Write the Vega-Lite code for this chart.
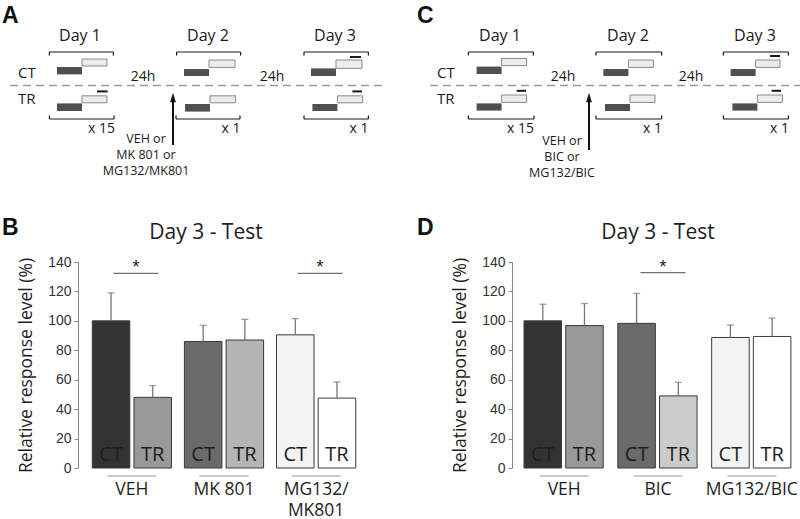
{
  "$schema": "https://vega.github.io/schema/vega-lite/v6.json",
  "padding": 0,
  "bounds": "flush",
  "spacing": 0,
  "config": {
    "view": {"stroke": null},
    "font": "Open Sans",
    "axisY": {"labelOverlap": false, "grid": false, "domainColor": "#888888", "tickColor": "#888888", "tickSize": 4, "labelFont": "Liberation Sans", "labelFontSize": 14, "labelColor": "#333333", "labelPadding": 3, "titleFont": "Open Sans", "titleFontSize": 17.5, "titleFontWeight": "normal", "titleColor": "#1e1e1e", "titlePadding": 12},
    "axisX": {"domain": false, "ticks": false, "tickSize": 0, "labelAngle": 0, "labelFont": "Open Sans", "labelFontSize": 17.5, "labelColor": "#1e1e1e", "labelPadding": 12, "labelLineHeight": 21, "labelOverlap": false}
  },
  "datasets": {
    "rects": [
      {"x": 28.5, "x2": 41, "y": 33.5, "y2": 37.2, "k": "dark"},
      {"x": 41, "x2": 53.5, "y": 29.5, "y2": 33, "k": "light"},
      {"x": 28.5, "x2": 41, "y": 51.7, "y2": 55.5, "k": "dark"},
      {"x": 41, "x2": 53.5, "y": 47.9, "y2": 51.4, "k": "light"},
      {"x": 48.5, "x2": 53.8, "y": 45.2, "y2": 46.2, "k": "cue"},
      {"x": 92, "x2": 104.5, "y": 34.5, "y2": 38, "k": "dark"},
      {"x": 104.5, "x2": 117.5, "y": 30, "y2": 33.7, "k": "light"},
      {"x": 92.5, "x2": 105, "y": 52, "y2": 55.8, "k": "dark"},
      {"x": 105, "x2": 117.8, "y": 47.9, "y2": 51.4, "k": "light"},
      {"x": 155.5, "x2": 168, "y": 34.2, "y2": 38, "k": "dark"},
      {"x": 168, "x2": 181, "y": 30, "y2": 34.2, "k": "light"},
      {"x": 175, "x2": 180.5, "y": 28, "y2": 29, "k": "cue"},
      {"x": 156.2, "x2": 168.7, "y": 52, "y2": 55.5, "k": "dark"},
      {"x": 168.7, "x2": 181.3, "y": 47.9, "y2": 51.4, "k": "light"},
      {"x": 176.2, "x2": 181, "y": 45.2, "y2": 46.2, "k": "cue"},
      {"x": 238.3, "x2": 250.8, "y": 33.3, "y2": 37, "k": "dark"},
      {"x": 250.8, "x2": 263.3, "y": 29.2, "y2": 32.8, "k": "light"},
      {"x": 238.3, "x2": 250.8, "y": 51.7, "y2": 55.3, "k": "dark"},
      {"x": 250.8, "x2": 263.3, "y": 47.5, "y2": 51.2, "k": "light"},
      {"x": 258.3, "x2": 263, "y": 44.9, "y2": 45.9, "k": "cue"},
      {"x": 301.7, "x2": 314.2, "y": 34.5, "y2": 38, "k": "dark"},
      {"x": 314.2, "x2": 326.7, "y": 30, "y2": 33.7, "k": "light"},
      {"x": 302.5, "x2": 315, "y": 52, "y2": 55.5, "k": "dark"},
      {"x": 315, "x2": 327.5, "y": 47.5, "y2": 51.2, "k": "light"},
      {"x": 365.3, "x2": 377.8, "y": 34.5, "y2": 38, "k": "dark"},
      {"x": 377.8, "x2": 390, "y": 30, "y2": 33.7, "k": "light"},
      {"x": 385, "x2": 390, "y": 27.5, "y2": 28.5, "k": "cue"},
      {"x": 366.2, "x2": 378.7, "y": 51.7, "y2": 55.3, "k": "dark"},
      {"x": 378.7, "x2": 391.2, "y": 47.5, "y2": 51.2, "k": "light"},
      {"x": 385.8, "x2": 390.5, "y": 44.9, "y2": 45.9, "k": "cue"}
    ],
    "brk": [
      {"x": 24.7, "x2": 56.7, "y": 26, "yt": 27.8},
      {"x": 88.3, "x2": 120.3, "y": 26, "yt": 27.8},
      {"x": 152, "x2": 184.2, "y": 26, "yt": 27.8},
      {"x": 24.7, "x2": 57, "y": 59.5, "yt": 57.7},
      {"x": 88, "x2": 120, "y": 59.5, "yt": 57.7},
      {"x": 152, "x2": 184.2, "y": 59.5, "yt": 57.7},
      {"x": 234.2, "x2": 266.7, "y": 26, "yt": 27.8},
      {"x": 298, "x2": 330.8, "y": 26, "yt": 27.8},
      {"x": 361.7, "x2": 394.2, "y": 26, "yt": 27.8},
      {"x": 234.2, "x2": 267, "y": 59.5, "yt": 57.7},
      {"x": 298, "x2": 330.8, "y": 59.5, "yt": 57.7},
      {"x": 361.7, "x2": 394.2, "y": 59.5, "yt": 57.7}
    ],
    "dash": [
      {"x": 5, "x2": 191, "y": 42.7},
      {"x": 215, "x2": 400, "y": 42.7}
    ],
    "arrow": [
      {"x": 86.5, "y": 72.5, "y2": 50, "ty": 48.8},
      {"x": 294.5, "y": 75, "y2": 50, "ty": 48.8}
    ],
    "txt": [
      {"x": 1, "y": 11.5, "t": "A", "k": "letter"},
      {"x": 1, "y": 117.5, "t": "B", "k": "letter"},
      {"x": 208.5, "y": 11.5, "t": "C", "k": "letter"},
      {"x": 208.5, "y": 117.5, "t": "D", "k": "letter"},
      {"x": 40, "y": 20.5, "t": "Day 1", "k": "day"},
      {"x": 104, "y": 20.5, "t": "Day 2", "k": "day"},
      {"x": 167.5, "y": 20.5, "t": "Day 3", "k": "day"},
      {"x": 250, "y": 20.5, "t": "Day 1", "k": "day"},
      {"x": 314, "y": 20.5, "t": "Day 2", "k": "day"},
      {"x": 377.5, "y": 20.5, "t": "Day 3", "k": "day"},
      {"x": 9, "y": 39, "t": "CT", "k": "grp"},
      {"x": 9, "y": 52, "t": "TR", "k": "grp"},
      {"x": 218.5, "y": 39, "t": "CT", "k": "grp"},
      {"x": 218.5, "y": 52, "t": "TR", "k": "grp"},
      {"x": 71.5, "y": 40.5, "t": "24h", "k": "h24"},
      {"x": 136, "y": 40.5, "t": "24h", "k": "h24"},
      {"x": 281.5, "y": 40.5, "t": "24h", "k": "h24"},
      {"x": 345.5, "y": 40.5, "t": "24h", "k": "h24"},
      {"x": 57.5, "y": 66.4, "t": "x 15", "k": "rep"},
      {"x": 120.3, "y": 66.4, "t": "x 1", "k": "rep"},
      {"x": 184.3, "y": 66.4, "t": "x 1", "k": "rep"},
      {"x": 267, "y": 66.4, "t": "x 15", "k": "rep"},
      {"x": 331, "y": 66.4, "t": "x 1", "k": "rep"},
      {"x": 394.5, "y": 66.4, "t": "x 1", "k": "rep"},
      {"x": 73, "y": 71.5, "t": "VEH or", "k": "trt"},
      {"x": 73, "y": 79.5, "t": "MK 801 or", "k": "trt"},
      {"x": 73, "y": 87.5, "t": "MG132/MK801", "k": "trt"},
      {"x": 281, "y": 72.5, "t": "VEH or", "k": "trt"},
      {"x": 281, "y": 80.5, "t": "BIC or", "k": "trt"},
      {"x": 281, "y": 88.5, "t": "MG132/BIC", "k": "trt"}
    ],
    "b": [
      {"group": "VEH", "cond": "CT", "id": "VEH CT", "mean": 100, "upper": 119},
      {"group": "VEH", "cond": "TR", "id": "VEH TR", "mean": 48, "upper": 56},
      {"group": "MK 801", "cond": "CT", "id": "MK CT", "mean": 86, "upper": 97},
      {"group": "MK 801", "cond": "TR", "id": "MK TR", "mean": 87, "upper": 101},
      {"group": "MG132/MK801", "cond": "CT", "id": "MG CT", "mean": 90.5, "upper": 101.5},
      {"group": "MG132/MK801", "cond": "TR", "id": "MG TR", "mean": 47.5, "upper": 58.5}
    ],
    "bsig": [
      {"group": "VEH", "y": 132.3},
      {"group": "MG132/MK801", "y": 132.3}
    ],
    "d": [
      {"group": "VEH", "cond": "CT", "id": "VEH CT", "mean": 100, "upper": 111.3},
      {"group": "VEH", "cond": "TR", "id": "VEH TR", "mean": 96.8, "upper": 111.8},
      {"group": "BIC", "cond": "CT", "id": "BIC CT", "mean": 98.3, "upper": 118.7},
      {"group": "BIC", "cond": "TR", "id": "BIC TR", "mean": 49, "upper": 58.2},
      {"group": "MG132/BIC", "cond": "CT", "id": "MG CT", "mean": 88.7, "upper": 97.2},
      {"group": "MG132/BIC", "cond": "TR", "id": "MG TR", "mean": 89.4, "upper": 101.9}
    ],
    "dsig": [
      {"group": "BIC", "y": 132.8}
    ]
  },
  "vconcat": [
    {
      "width": 800,
      "height": 262,
      "layer": [
        {
          "data": {"name": "rects"},
          "transform": [{"filter": "datum.k == 'dark'"}],
          "mark": {"type": "rect", "color": "#505050"},
          "encoding": {
            "x": {"field": "x", "type": "quantitative", "scale": {"domain": [0, 400], "nice": false, "zero": false}, "axis": null},
            "x2": {"field": "x2"},
            "y": {"field": "y", "type": "quantitative", "scale": {"domain": [0, 131], "nice": false, "zero": false, "reverse": true}, "axis": null},
            "y2": {"field": "y2"}
          }
        },
        {
          "data": {"name": "rects"},
          "transform": [{"filter": "datum.k == 'light'"}],
          "mark": {"type": "rect", "fill": "#ececec", "stroke": "#8a8a8a", "strokeWidth": 1},
          "encoding": {
            "x": {"field": "x", "type": "quantitative", "scale": {"domain": [0, 400], "nice": false, "zero": false}, "axis": null},
            "x2": {"field": "x2"},
            "y": {"field": "y", "type": "quantitative", "scale": {"domain": [0, 131], "nice": false, "zero": false, "reverse": true}, "axis": null},
            "y2": {"field": "y2"}
          }
        },
        {
          "data": {"name": "rects"},
          "transform": [{"filter": "datum.k == 'cue'"}],
          "mark": {"type": "rect", "color": "#1a1a1a"},
          "encoding": {
            "x": {"field": "x", "type": "quantitative", "scale": {"domain": [0, 400], "nice": false, "zero": false}, "axis": null},
            "x2": {"field": "x2"},
            "y": {"field": "y", "type": "quantitative", "scale": {"domain": [0, 131], "nice": false, "zero": false, "reverse": true}, "axis": null},
            "y2": {"field": "y2"}
          }
        },
        {
          "data": {"name": "brk"},
          "mark": {"type": "rule", "color": "#1a1a1a", "strokeWidth": 1.2},
          "encoding": {
            "x": {"field": "x", "type": "quantitative", "scale": {"domain": [0, 400], "nice": false, "zero": false}, "axis": null},
            "x2": {"field": "x2"},
            "y": {"field": "y", "type": "quantitative", "scale": {"domain": [0, 131], "nice": false, "zero": false, "reverse": true}, "axis": null}
          }
        },
        {
          "data": {"name": "brk"},
          "mark": {"type": "rule", "color": "#1a1a1a", "strokeWidth": 1.2},
          "encoding": {
            "x": {"field": "x", "type": "quantitative", "scale": {"domain": [0, 400], "nice": false, "zero": false}, "axis": null},
            "y": {"field": "y", "type": "quantitative", "scale": {"domain": [0, 131], "nice": false, "zero": false, "reverse": true}, "axis": null},
            "y2": {"field": "yt"}
          }
        },
        {
          "data": {"name": "brk"},
          "mark": {"type": "rule", "color": "#1a1a1a", "strokeWidth": 1.2},
          "encoding": {
            "x": {"field": "x2", "type": "quantitative", "scale": {"domain": [0, 400], "nice": false, "zero": false}, "axis": null},
            "y": {"field": "y", "type": "quantitative", "scale": {"domain": [0, 131], "nice": false, "zero": false, "reverse": true}, "axis": null},
            "y2": {"field": "yt"}
          }
        },
        {
          "data": {"name": "dash"},
          "mark": {"type": "rule", "color": "#9a9a9a", "strokeWidth": 1.5, "strokeDash": [8, 5]},
          "encoding": {
            "x": {"field": "x", "type": "quantitative", "scale": {"domain": [0, 400], "nice": false, "zero": false}, "axis": null},
            "x2": {"field": "x2"},
            "y": {"field": "y", "type": "quantitative", "scale": {"domain": [0, 131], "nice": false, "zero": false, "reverse": true}, "axis": null}
          }
        },
        {
          "data": {"name": "arrow"},
          "mark": {"type": "rule", "color": "#111111", "strokeWidth": 2},
          "encoding": {
            "x": {"field": "x", "type": "quantitative", "scale": {"domain": [0, 400], "nice": false, "zero": false}, "axis": null},
            "y": {"field": "y", "type": "quantitative", "scale": {"domain": [0, 131], "nice": false, "zero": false, "reverse": true}, "axis": null},
            "y2": {"field": "y2"}
          }
        },
        {
          "data": {"name": "arrow"},
          "mark": {"type": "point", "shape": "M-0.6,1L0,-1L0.6,1Z", "size": 90, "filled": true, "opacity": 1, "color": "#111111"},
          "encoding": {
            "x": {"field": "x", "type": "quantitative", "scale": {"domain": [0, 400], "nice": false, "zero": false}, "axis": null},
            "y": {"field": "ty", "type": "quantitative", "scale": {"domain": [0, 131], "nice": false, "zero": false, "reverse": true}, "axis": null}
          }
        },
        {
          "data": {"name": "txt"},
          "transform": [{"filter": "datum.k == 'letter'"}],
          "mark": {"type": "text", "font": "Liberation Sans", "fontWeight": "bold", "fontSize": 23, "align": "left", "baseline": "alphabetic", "color": "#111111"},
          "encoding": {
            "x": {"field": "x", "type": "quantitative", "scale": {"domain": [0, 400], "nice": false, "zero": false}, "axis": null},
            "y": {"field": "y", "type": "quantitative", "scale": {"domain": [0, 131], "nice": false, "zero": false, "reverse": true}, "axis": null},
            "text": {"field": "t"}
          }
        },
        {
          "data": {"name": "txt"},
          "transform": [{"filter": "datum.k == 'day'"}],
          "mark": {"type": "text", "font": "Open Sans", "fontSize": 16, "align": "center", "baseline": "alphabetic", "color": "#1a1a1a"},
          "encoding": {
            "x": {"field": "x", "type": "quantitative", "scale": {"domain": [0, 400], "nice": false, "zero": false}, "axis": null},
            "y": {"field": "y", "type": "quantitative", "scale": {"domain": [0, 131], "nice": false, "zero": false, "reverse": true}, "axis": null},
            "text": {"field": "t"}
          }
        },
        {
          "data": {"name": "txt"},
          "transform": [{"filter": "datum.k == 'grp'"}],
          "mark": {"type": "text", "font": "Open Sans", "fontSize": 15, "align": "left", "baseline": "alphabetic", "color": "#1a1a1a"},
          "encoding": {
            "x": {"field": "x", "type": "quantitative", "scale": {"domain": [0, 400], "nice": false, "zero": false}, "axis": null},
            "y": {"field": "y", "type": "quantitative", "scale": {"domain": [0, 131], "nice": false, "zero": false, "reverse": true}, "axis": null},
            "text": {"field": "t"}
          }
        },
        {
          "data": {"name": "txt"},
          "transform": [{"filter": "datum.k == 'h24'"}],
          "mark": {"type": "text", "font": "Open Sans", "fontSize": 14, "align": "center", "baseline": "alphabetic", "color": "#1a1a1a"},
          "encoding": {
            "x": {"field": "x", "type": "quantitative", "scale": {"domain": [0, 400], "nice": false, "zero": false}, "axis": null},
            "y": {"field": "y", "type": "quantitative", "scale": {"domain": [0, 131], "nice": false, "zero": false, "reverse": true}, "axis": null},
            "text": {"field": "t"}
          }
        },
        {
          "data": {"name": "txt"},
          "transform": [{"filter": "datum.k == 'rep'"}],
          "mark": {"type": "text", "font": "Open Sans", "fontSize": 14, "align": "right", "baseline": "alphabetic", "color": "#1a1a1a"},
          "encoding": {
            "x": {"field": "x", "type": "quantitative", "scale": {"domain": [0, 400], "nice": false, "zero": false}, "axis": null},
            "y": {"field": "y", "type": "quantitative", "scale": {"domain": [0, 131], "nice": false, "zero": false, "reverse": true}, "axis": null},
            "text": {"field": "t"}
          }
        },
        {
          "data": {"name": "txt"},
          "transform": [{"filter": "datum.k == 'trt'"}],
          "mark": {"type": "text", "font": "Open Sans", "fontSize": 12.5, "align": "center", "baseline": "alphabetic", "color": "#1a1a1a"},
          "encoding": {
            "x": {"field": "x", "type": "quantitative", "scale": {"domain": [0, 400], "nice": false, "zero": false}, "axis": null},
            "y": {"field": "y", "type": "quantitative", "scale": {"domain": [0, 131], "nice": false, "zero": false, "reverse": true}, "axis": null},
            "text": {"field": "t"}
          }
        }
      ]
    },
    {
      "bounds": "flush",
      "spacing": 0,
      "hconcat": [
        {"width": 78, "height": 206, "data": {"values": []}, "mark": "point", "encoding": {}},
        {
          "bounds": "flush",
          "spacing": 142,
          "hconcat": [
            {
              "width": 292,
              "height": 206,
              "title": {"text": "Day 3 - Test", "font": "Open Sans", "fontSize": 21, "fontWeight": "normal", "color": "#1e1e1e", "anchor": "middle", "frame": "group", "dx": -18, "dy": 20, "offset": 15, "baseline": "alphabetic"},
              "layer": [
                {
                  "data": {"name": "b"},
                  "mark": {"type": "bar", "stroke": "#3a3a3a", "strokeWidth": 1},
                  "encoding": {
                    "x": {"field": "group", "type": "nominal", "sort": null, "title": null, "scale": {"domain": ["VEH", "MK 801", "MG132/MK801"], "paddingInner": 0.14, "paddingOuter": 0.155}, "axis": {"title": null, "labelOverlap": false, "labelFontSize": 17.5, "labelPadding": 12, "labelExpr": "datum.value == 'MG132/MK801' ? ['MG132/', 'MK801'] : datum.label"}},
                    "xOffset": {"field": "cond", "type": "nominal", "scale": {"domain": ["CT", "TR"], "paddingInner": 0.1, "paddingOuter": 0}},
                    "y": {"field": "mean", "type": "quantitative", "title": "Relative response level (%)", "scale": {"domain": [0, 140], "nice": false}, "axis": {"title": "Relative response level (%)", "values": [0, 20, 40, 60, 80, 100, 120, 140], "labelOverlap": false, "labelFontSize": 14, "labelFont": "Liberation Sans"}},
                    "fill": {"field": "id", "type": "nominal", "scale": {"domain": ["VEH CT", "VEH TR", "MK CT", "MK TR", "BIC CT", "BIC TR", "MG CT", "MG TR"], "range": ["#333333", "#999999", "#6a6a6a", "#b5b5b5", "#6a6a6a", "#cccccc", "#f3f3f3", "#ffffff"]}, "legend": null}
                  }
                },
                {
                  "data": {"name": "b"},
                  "mark": {"type": "rule", "color": "#777777", "strokeWidth": 1.3},
                  "encoding": {
                    "x": {"field": "group", "type": "nominal", "title": null, "axis": {"title": null, "labelOverlap": false, "labelFontSize": 17.5, "labelPadding": 12, "labelExpr": "datum.value == 'MG132/MK801' ? ['MG132/', 'MK801'] : datum.label"}},
                    "xOffset": {"field": "cond", "type": "nominal"},
                    "y": {"field": "mean", "type": "quantitative", "title": "Relative response level (%)", "axis": {"title": "Relative response level (%)", "values": [0, 20, 40, 60, 80, 100, 120, 140], "labelOverlap": false, "labelFontSize": 14, "labelFont": "Liberation Sans"}},
                    "y2": {"field": "upper"}
                  }
                },
                {
                  "data": {"name": "b"},
                  "mark": {"type": "tick", "color": "#777777", "size": 7, "thickness": 1.3, "orient": "horizontal"},
                  "encoding": {
                    "x": {"field": "group", "type": "nominal", "title": null, "axis": {"title": null, "labelOverlap": false, "labelFontSize": 17.5, "labelPadding": 12, "labelExpr": "datum.value == 'MG132/MK801' ? ['MG132/', 'MK801'] : datum.label"}},
                    "xOffset": {"field": "cond", "type": "nominal"},
                    "y": {"field": "upper", "type": "quantitative", "title": "Relative response level (%)", "axis": {"title": "Relative response level (%)", "values": [0, 20, 40, 60, 80, 100, 120, 140], "labelOverlap": false, "labelFontSize": 14, "labelFont": "Liberation Sans"}}
                  }
                },
                {
                  "data": {"name": "b"},
                  "mark": {"type": "text", "font": "Open Sans", "fontSize": 20, "color": "#1e1e1e", "baseline": "alphabetic", "dy": -7.5},
                  "encoding": {
                    "x": {"field": "group", "type": "nominal", "title": null, "axis": {"title": null, "labelOverlap": false, "labelFontSize": 17.5, "labelPadding": 12, "labelExpr": "datum.value == 'MG132/MK801' ? ['MG132/', 'MK801'] : datum.label"}},
                    "xOffset": {"field": "cond", "type": "nominal"},
                    "y": {"datum": 0, "type": "quantitative", "title": "Relative response level (%)", "axis": {"title": "Relative response level (%)", "values": [0, 20, 40, 60, 80, 100, 120, 140], "labelOverlap": false, "labelFontSize": 14, "labelFont": "Liberation Sans"}},
                    "text": {"field": "cond"}
                  }
                },
                {
                  "data": {"name": "b"},
                  "mark": {"type": "tick", "color": "#aaaaaa", "size": 49, "thickness": 1, "orient": "horizontal"},
                  "encoding": {
                    "x": {"field": "group", "type": "nominal", "title": null, "axis": {"title": null, "labelOverlap": false, "labelFontSize": 17.5, "labelPadding": 12, "labelExpr": "datum.value == 'MG132/MK801' ? ['MG132/', 'MK801'] : datum.label"}},
                    "y": {"datum": -5.4, "type": "quantitative", "title": "Relative response level (%)", "axis": {"title": "Relative response level (%)", "values": [0, 20, 40, 60, 80, 100, 120, 140], "labelOverlap": false, "labelFontSize": 14, "labelFont": "Liberation Sans"}}
                  }
                },
                {
                  "data": {"name": "bsig"},
                  "mark": {"type": "tick", "color": "#333333", "size": 45, "thickness": 1.2, "orient": "horizontal", "xOffset": 4},
                  "encoding": {
                    "x": {"field": "group", "type": "nominal", "title": null, "axis": {"title": null, "labelOverlap": false, "labelFontSize": 17.5, "labelPadding": 12, "labelExpr": "datum.value == 'MG132/MK801' ? ['MG132/', 'MK801'] : datum.label"}},
                    "y": {"field": "y", "type": "quantitative", "title": "Relative response level (%)", "axis": {"title": "Relative response level (%)", "values": [0, 20, 40, 60, 80, 100, 120, 140], "labelOverlap": false, "labelFontSize": 14, "labelFont": "Liberation Sans"}}
                  }
                },
                {
                  "data": {"name": "bsig"},
                  "mark": {"type": "text", "text": "*", "font": "Liberation Sans", "fontSize": 18, "color": "#222222", "baseline": "alphabetic", "xOffset": 4},
                  "encoding": {
                    "x": {"field": "group", "type": "nominal", "title": null, "axis": {"title": null, "labelOverlap": false, "labelFontSize": 17.5, "labelPadding": 12, "labelExpr": "datum.value == 'MG132/MK801' ? ['MG132/', 'MK801'] : datum.label"}},
                    "y": {"field": "y", "type": "quantitative", "title": "Relative response level (%)", "axis": {"title": "Relative response level (%)", "values": [0, 20, 40, 60, 80, 100, 120, 140], "labelOverlap": false, "labelFontSize": 14, "labelFont": "Liberation Sans"}}
                  }
                }
              ]
            },
            {
              "width": 292,
              "height": 206,
              "title": {"text": "Day 3 - Test", "font": "Open Sans", "fontSize": 21, "fontWeight": "normal", "color": "#1e1e1e", "anchor": "middle", "frame": "group", "dy": 20, "offset": 15, "baseline": "alphabetic"},
              "layer": [
                {
                  "data": {"name": "d"},
                  "mark": {"type": "bar", "stroke": "#3a3a3a", "strokeWidth": 1},
                  "encoding": {
                    "x": {"field": "group", "type": "nominal", "sort": null, "title": null, "scale": {"domain": ["VEH", "BIC", "MG132/BIC"], "paddingInner": 0.144, "paddingOuter": 0.128}, "axis": {"title": null, "labelOverlap": false, "labelFontSize": 17.5, "labelPadding": 12}},
                    "xOffset": {"field": "cond", "type": "nominal", "scale": {"domain": ["CT", "TR"], "paddingInner": 0.1, "paddingOuter": 0}},
                    "y": {"field": "mean", "type": "quantitative", "title": "Relative response level (%)", "scale": {"domain": [0, 140], "nice": false}, "axis": {"title": "Relative response level (%)", "values": [0, 20, 40, 60, 80, 100, 120, 140], "labelOverlap": false, "labelFontSize": 14, "labelFont": "Liberation Sans"}},
                    "fill": {"field": "id", "type": "nominal", "scale": {"domain": ["VEH CT", "VEH TR", "MK CT", "MK TR", "BIC CT", "BIC TR", "MG CT", "MG TR"], "range": ["#333333", "#999999", "#6a6a6a", "#b5b5b5", "#6a6a6a", "#cccccc", "#f3f3f3", "#ffffff"]}, "legend": null}
                  }
                },
                {
                  "data": {"name": "d"},
                  "mark": {"type": "rule", "color": "#777777", "strokeWidth": 1.3},
                  "encoding": {
                    "x": {"field": "group", "type": "nominal", "title": null, "axis": {"title": null, "labelOverlap": false, "labelFontSize": 17.5, "labelPadding": 12}},
                    "xOffset": {"field": "cond", "type": "nominal"},
                    "y": {"field": "mean", "type": "quantitative", "title": "Relative response level (%)", "axis": {"title": "Relative response level (%)", "values": [0, 20, 40, 60, 80, 100, 120, 140], "labelOverlap": false, "labelFontSize": 14, "labelFont": "Liberation Sans"}},
                    "y2": {"field": "upper"}
                  }
                },
                {
                  "data": {"name": "d"},
                  "mark": {"type": "tick", "color": "#777777", "size": 7, "thickness": 1.3, "orient": "horizontal"},
                  "encoding": {
                    "x": {"field": "group", "type": "nominal", "title": null, "axis": {"title": null, "labelOverlap": false, "labelFontSize": 17.5, "labelPadding": 12}},
                    "xOffset": {"field": "cond", "type": "nominal"},
                    "y": {"field": "upper", "type": "quantitative", "title": "Relative response level (%)", "axis": {"title": "Relative response level (%)", "values": [0, 20, 40, 60, 80, 100, 120, 140], "labelOverlap": false, "labelFontSize": 14, "labelFont": "Liberation Sans"}}
                  }
                },
                {
                  "data": {"name": "d"},
                  "mark": {"type": "text", "font": "Open Sans", "fontSize": 20, "color": "#1e1e1e", "baseline": "alphabetic", "dy": -7.5},
                  "encoding": {
                    "x": {"field": "group", "type": "nominal", "title": null, "axis": {"title": null, "labelOverlap": false, "labelFontSize": 17.5, "labelPadding": 12}},
                    "xOffset": {"field": "cond", "type": "nominal"},
                    "y": {"datum": 0, "type": "quantitative", "title": "Relative response level (%)", "axis": {"title": "Relative response level (%)", "values": [0, 20, 40, 60, 80, 100, 120, 140], "labelOverlap": false, "labelFontSize": 14, "labelFont": "Liberation Sans"}},
                    "text": {"field": "cond"}
                  }
                },
                {
                  "data": {"name": "d"},
                  "mark": {"type": "tick", "color": "#aaaaaa", "size": 49, "thickness": 1, "orient": "horizontal"},
                  "encoding": {
                    "x": {"field": "group", "type": "nominal", "title": null, "axis": {"title": null, "labelOverlap": false, "labelFontSize": 17.5, "labelPadding": 12}},
                    "y": {"datum": -5.4, "type": "quantitative", "title": "Relative response level (%)", "axis": {"title": "Relative response level (%)", "values": [0, 20, 40, 60, 80, 100, 120, 140], "labelOverlap": false, "labelFontSize": 14, "labelFont": "Liberation Sans"}}
                  }
                },
                {
                  "data": {"name": "dsig"},
                  "mark": {"type": "tick", "color": "#333333", "size": 45, "thickness": 1.2, "orient": "horizontal", "xOffset": 5},
                  "encoding": {
                    "x": {"field": "group", "type": "nominal", "title": null, "axis": {"title": null, "labelOverlap": false, "labelFontSize": 17.5, "labelPadding": 12}},
                    "y": {"field": "y", "type": "quantitative", "title": "Relative response level (%)", "axis": {"title": "Relative response level (%)", "values": [0, 20, 40, 60, 80, 100, 120, 140], "labelOverlap": false, "labelFontSize": 14, "labelFont": "Liberation Sans"}}
                  }
                },
                {
                  "data": {"name": "dsig"},
                  "mark": {"type": "text", "text": "*", "font": "Liberation Sans", "fontSize": 18, "color": "#222222", "baseline": "alphabetic", "xOffset": 5},
                  "encoding": {
                    "x": {"field": "group", "type": "nominal", "title": null, "axis": {"title": null, "labelOverlap": false, "labelFontSize": 17.5, "labelPadding": 12}},
                    "y": {"field": "y", "type": "quantitative", "title": "Relative response level (%)", "axis": {"title": "Relative response level (%)", "values": [0, 20, 40, 60, 80, 100, 120, 140], "labelOverlap": false, "labelFontSize": 14, "labelFont": "Liberation Sans"}}
                  }
                }
              ]
            }
          ]
        }
      ]
    }
  ]
}
